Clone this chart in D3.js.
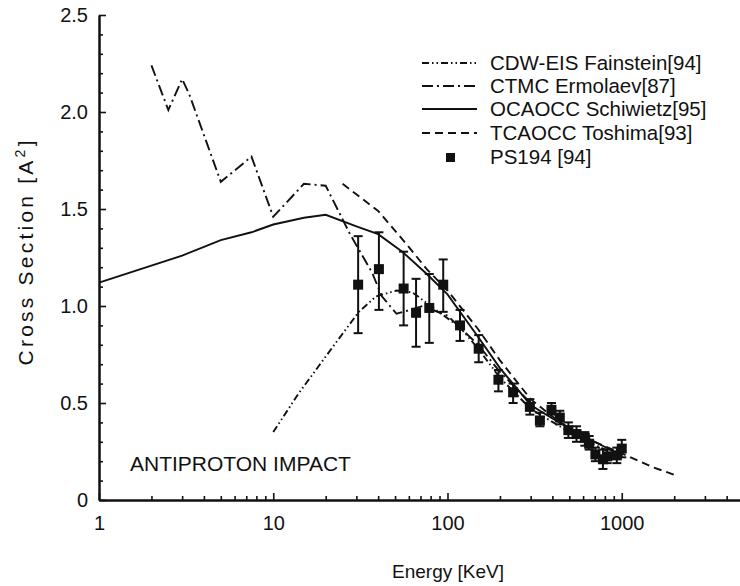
<!DOCTYPE html>
<html>
<head>
<meta charset="utf-8">
<script src="https://cdn.jsdelivr.net/npm/d3@7/dist/d3.min.js"></script>
<style>
  html, body { margin: 0; padding: 0; background: #fff; }
  svg { display: block; }
  text { font-family: "Liberation Sans", Arial, Helvetica, sans-serif; fill: #111; }
</style>
</head>
<body>
<svg id="chart" width="740" height="586"></svg>
<script>
// ---------- data ----------
const xTickValues = [1, 10, 100, 1000];
const yTickValues = [0, 0.5, 1.0, 1.5, 2.0, 2.5];

const cdwE = [10, 14, 22, 31, 39, 51, 63, 80, 118, 150, 200, 300, 500, 800, 1000];
const cdwV = [0.35, 0.55, 0.79, 0.97, 1.05, 1.08, 1.07, 1.00, 0.89, 0.78, 0.63, 0.47, 0.35, 0.26, 0.22];

const ctmcE = [2, 2.5, 3, 3.3, 5, 7.5, 10, 15, 20, 27.6, 37, 42, 51, 61, 72, 100, 150, 200, 300];
const ctmcV = [2.24, 2.01, 2.17, 2.09, 1.64, 1.77, 1.46, 1.63, 1.62, 1.37, 1.17, 1.05, 0.96, 0.98, 1.00, 0.95, 0.80, 0.66, 0.50];

const ocaE = [1, 3, 5, 7.5, 10, 15, 20, 30, 40, 55, 75, 100, 150, 200, 300, 400, 600, 1000];
const ocaV = [1.12, 1.26, 1.34, 1.38, 1.42, 1.455, 1.47, 1.41, 1.37, 1.28, 1.17, 1.06, 0.84, 0.68, 0.49, 0.42, 0.33, 0.23];

const tcaE = [25, 40, 58, 76, 100, 150, 200, 300, 400, 500, 700, 1000, 1500, 2000];
const tcaV = [1.63, 1.49, 1.32, 1.19, 1.08, 0.88, 0.72, 0.52, 0.43, 0.37, 0.30, 0.24, 0.17, 0.13];

const psE  = [30.7, 40.4, 56, 66, 78.6, 94.5, 118, 151, 196, 238, 297, 339, 395, 441, 494, 550, 614, 650, 706, 780, 825, 937, 1000];
const psV  = [1.11, 1.19, 1.09, 0.965, 0.99, 1.11, 0.90, 0.78, 0.62, 0.555, 0.48, 0.41, 0.465, 0.425, 0.36, 0.34, 0.32, 0.29, 0.235, 0.21, 0.225, 0.23, 0.265];
const psLo = [0.86, 0.98, 0.90, 0.79, 0.81, 0.97, 0.82, 0.71, 0.56, 0.50, 0.44, 0.38, 0.44, 0.39, 0.32, 0.30, 0.28, 0.26, 0.20, 0.16, 0.19, 0.19, 0.22];
const psHi = [1.36, 1.38, 1.28, 1.14, 1.165, 1.24, 0.98, 0.85, 0.67, 0.60, 0.52, 0.45, 0.50, 0.46, 0.40, 0.38, 0.35, 0.33, 0.27, 0.26, 0.26, 0.27, 0.31];

const seriesNames = ["CDW-EIS Fainstein[94]", "CTMC Ermolaev[87]", "OCAOCC Schiwietz[95]", "TCAOCC Toshima[93]", "PS194 [94]"];

// ---------- layout ----------
const svg = d3.select("#chart");
const x = d3.scaleLog().domain([1, 10000]).range([99, 796]);
const y = d3.scaleLinear().domain([0, 2.5]).range([500, 15]);

const dashes = ["7,3,1.5,3,1.5,3", "11,4,2,4", null, "8,5"];
const lineW = 1.9;

// axes
const yMinor = d3.range(0, 2.51, 0.1).map(v => +v.toFixed(2));
const xMinor = [];
[1, 10, 100, 1000].forEach(d => { for (let k = 2; k <= 9; k++) xMinor.push(d * k); });

const gY = svg.append("g").attr("transform", `translate(${x(1)},0)`);
gY.call(d3.axisLeft(y).tickValues(yMinor.filter(v => !yTickValues.some(t => Math.abs(t - v) < 1e-6)))
  .tickSize(-4).tickSizeOuter(0).tickFormat(""));
const gY2 = svg.append("g").attr("transform", `translate(${x(1)},0)`);
gY2.call(d3.axisLeft(y).tickValues(yTickValues).tickSize(-7).tickSizeOuter(0).tickPadding(11)
  .tickFormat(d => d === 0 ? "0" : d.toFixed(1)));

const gX = svg.append("g").attr("transform", `translate(0,${y(0)})`);
gX.call(d3.axisBottom(x).tickValues(xMinor).tickSize(-4).tickSizeOuter(0).tickFormat(""));
const gX2 = svg.append("g").attr("transform", `translate(0,${y(0)})`);
gX2.call(d3.axisBottom(x).tickValues(xTickValues).tickSize(-7).tickSizeOuter(0).tickPadding(16)
  .tickFormat(d3.format("d")));

svg.selectAll(".domain").attr("stroke", "#111").attr("stroke-width", 2);
svg.selectAll(".tick line").attr("stroke", "#111").attr("stroke-width", 1.6);
svg.selectAll(".tick text").attr("font-size", 20).attr("fill", "#111")
  .style("font-family", '"Liberation Sans", Arial, sans-serif');

// axis titles
svg.append("text").attr("x", 448).attr("y", 578).attr("text-anchor", "middle")
  .attr("font-size", 19).text("Energy [KeV]");
const yt = svg.append("text").attr("transform", "translate(33,253) rotate(-90)")
  .attr("text-anchor", "middle").attr("font-size", 21)
  .attr("textLength", 225).attr("lengthAdjust", "spacing");
yt.append("tspan").text("Cross Section [A");
yt.append("tspan").attr("font-size", 14).attr("dy", -8).text("2");
yt.append("tspan").attr("dy", 8).text("]");

// curves
const line = d3.line().x(d => x(d[0])).y(d => y(d[1]));
const curves = [
  d3.zip(cdwE, cdwV),
  d3.zip(ctmcE, ctmcV),
  d3.zip(ocaE, ocaV),
  d3.zip(tcaE, tcaV)
];
curves.forEach((c, i) => {
  svg.append("path").datum(c).attr("d", line).attr("fill", "none")
    .attr("stroke", "#111").attr("stroke-width", lineW)
    .attr("stroke-dasharray", dashes[i]);
});

// data points with error bars
const pts = psE.map((e, i) => ({e, v: psV[i], lo: psLo[i], hi: psHi[i]}));
const gp = svg.append("g");
const capW = 9, sq = 10;
pts.forEach(p => {
  const cx = x(p.e);
  gp.append("line").attr("x1", cx).attr("x2", cx).attr("y1", y(p.lo)).attr("y2", y(p.hi))
    .attr("stroke", "#111").attr("stroke-width", 2);
  [p.lo, p.hi].forEach(v => gp.append("line").attr("x1", cx - capW / 2).attr("x2", cx + capW / 2)
    .attr("y1", y(v)).attr("y2", y(v)).attr("stroke", "#111").attr("stroke-width", 2));
  gp.append("rect").attr("x", cx - sq / 2).attr("y", y(p.v) - sq / 2).attr("width", sq).attr("height", sq)
    .attr("fill", "#111");
});

// legend
const lg = svg.append("g");
const rowsY = [63, 86, 109, 133, 157];
seriesNames.forEach((name, i) => {
  const ry = rowsY[i];
  if (i < 4) {
    lg.append("line").attr("x1", 422).attr("x2", 477).attr("y1", ry).attr("y2", ry)
      .attr("stroke", "#111").attr("stroke-width", lineW).attr("stroke-dasharray", dashes[i]);
  } else {
    lg.append("rect").attr("x", 446).attr("y", ry - 4).attr("width", 9).attr("height", 9).attr("fill", "#111");
  }
  lg.append("text").attr("x", 490).attr("y", ry + 7).attr("font-size", 20.5).text(name);
});

// annotation
svg.append("text").attr("x", 130).attr("y", 471).attr("font-size", 21).text("ANTIPROTON IMPACT");
</script>
</body>
</html>
